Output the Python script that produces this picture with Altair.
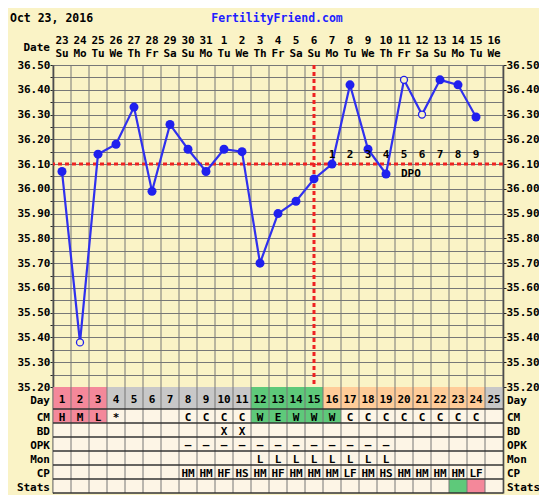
import altair as alt
import pandas as pd

# ---------------- data ----------------
days = list(range(1, 26))
dates = ["23", "24", "25", "26", "27", "28", "29", "30", "31", "1", "2", "3", "4",
         "5", "6", "7", "8", "9", "10", "11", "12", "13", "14", "15", "16"]
weekdays = ["Su", "Mo", "Tu", "We", "Th", "Fr", "Sa", "Su", "Mo", "Tu", "We", "Th", "Fr",
            "Sa", "Su", "Mo", "Tu", "We", "Th", "Fr", "Sa", "Su", "Mo", "Tu", "We"]

temp_days = list(range(1, 25))
temps = [36.07, 35.38, 36.14, 36.18, 36.33, 35.99, 36.26, 36.16, 36.07, 36.16, 36.15, 35.70,
         35.90, 35.95, 36.04, 36.10, 36.42, 36.16, 36.06, 36.44, 36.30, 36.44, 36.42, 36.29]
discarded_days = [2, 20, 21]
coverline = 36.10
ovulation_day = 15
dpo_days = [16, 17, 18, 19, 20, 21, 22, 23, 24]
dpo_labels = ["1", "2", "3", "4", "5", "6", "7", "8", "9"]

day_phase = ["flow", "flow", "flow", "cycle", "cycle", "cycle", "cycle", "cycle", "cycle",
             "cycle", "cycle", "fertile", "fertile", "fertile", "fertile", "luteal", "luteal",
             "luteal", "luteal", "luteal", "luteal", "luteal", "luteal", "luteal", "cycle"]
cm = ["H", "M", "L", "*", "", "", "", "C", "C", "C", "C", "W", "E", "W", "W", "W",
      "C", "C", "C", "C", "C", "C", "C", "C", ""]
cm_phase = ["flow", "flow", "flow", "plain", "plain", "plain", "plain", "plain", "plain",
            "plain", "plain", "fertile", "fertile", "fertile", "fertile", "fertile", "plain",
            "plain", "plain", "plain", "plain", "plain", "plain", "plain", "plain"]
bd = ["", "", "", "", "", "", "", "", "", "X", "X", "", "", "", "", "", "", "", "", "",
      "", "", "", "", ""]
opk = ["", "", "", "", "", "", "", "–", "–", "–", "–", "–", "–", "–", "–", "–", "–", "–",
       "–", "", "", "", "", "", ""]
mon = ["", "", "", "", "", "", "", "", "", "", "", "L", "L", "L", "L", "L", "L", "L", "L",
       "", "", "", "", "", ""]
cp = ["", "", "", "", "", "", "", "HM", "HM", "HF", "HS", "HM", "HF", "HM", "HM", "HM",
      "LF", "HM", "HS", "HM", "HM", "HM", "HM", "LF", ""]
stats_phase = ["plain"] * 22 + ["fertile", "flow", "plain"]

row_names = ["Day", "CM", "BD", "OPK", "Mon", "CP", "Stats"]

# ---------------- layout helpers ----------------
BG = "#FAF3C6"
FONT = "DejaVu Sans Mono"
W = 450
H_TEMP = 322           # pixel height of the temperature grid
ROW_PX = 14.0          # pixel height of one table row
DAY_PX = 22.0          # pixel height of the "Day" row
H = H_TEMP + DAY_PX + 6 * ROW_PX
T_TOP, T_BOT = 36.50, 35.20
PX_PER_DEG = H_TEMP / (T_TOP - T_BOT)
T_MIN = T_BOT - (H - H_TEMP) / PX_PER_DEG
DAY_H = DAY_PX / ROW_PX
R_MIN = -H_TEMP / ROW_PX
R_MAX = (H - H_TEMP) / ROW_PX

row_top = {"Day": 0.0}
row_bot = {"Day": DAY_H}
prev = DAY_H
for r in row_names[1:]:
    row_top[r] = prev
    row_bot[r] = prev + 1
    prev += 1

row_text = {"Day": [str(d) for d in days], "CM": cm, "BD": bd, "OPK": opk, "Mon": mon,
            "CP": cp, "Stats": [""] * 25}
row_fill = {"Day": day_phase, "CM": cm_phase, "BD": ["plain"] * 25, "OPK": ["plain"] * 25,
            "Mon": ["plain"] * 25, "CP": ["plain"] * 25, "Stats": stats_phase}

cells = []
for r in row_names:
    for i, d in enumerate(days):
        cells.append({"day": d, "x0": d - 0.5, "x1": d + 0.5, "y0": row_top[r], "y1": row_bot[r],
                      "yc": (row_top[r] + row_bot[r]) / 2, "txt": row_text[r][i],
                      "fill": row_fill[r][i]})
cells_df = pd.DataFrame(cells)

rows_df = pd.DataFrame({
    "row": row_names,
    "yc": [(row_top[r] + row_bot[r]) / 2 + (1.0 / ROW_PX if r == "Day" else 0.0)
           for r in row_names]})
hlines_df = pd.DataFrame({"y": [row_bot[r] for r in row_names]})
vlines_df = pd.DataFrame({"x": [d - 0.5 for d in days] + [25.5]})
dates_df = pd.DataFrame({"day": days, "date": dates, "wd": weekdays})

temp_df = pd.DataFrame({"day": temp_days, "temp": temps})
temp_df["discarded"] = temp_df["day"].isin(discarded_days)
dpo_df = pd.DataFrame({"day": dpo_days, "lbl": dpo_labels, "temp": [coverline] * len(dpo_days)})

x_scale = alt.Scale(domain=[0.5, 25.5], nice=False, zero=False)
t_scale = alt.Scale(domain=[T_MIN, T_TOP], nice=False, zero=False)
r_scale = alt.Scale(domain=[R_MIN, R_MAX], nice=False, zero=False, reverse=True)

fill_scale = alt.Scale(domain=["flow", "cycle", "fertile", "luteal", "plain"],
                       range=["#F4889A", "#C8C8C8", "#5EC97A", "#FFCC99", "#FDF5E6"])

grid_vals = [round(T_BOT + 0.05 * i, 2) for i in range(27)]
label_vals = [round(T_BOT + 0.10 * i, 2) for i in range(14)]

txt_common = dict(font=FONT, fontWeight="bold", fontSize=11, color="black")

left_axis = alt.Axis(
    orient="left", values=grid_vals,
    labelExpr="round(datum.value * 100) % 10 == 0 ? format(datum.value, '.2f') : ''",
    grid=True, gridColor="#777777", gridWidth=1, gridOpacity=1,
    tickSize=3, tickColor="#222222", domainColor="#222222", domainWidth=1.5,
    labelPadding=0, labelFont=FONT, labelFontWeight="bold", labelFontSize=11,
    labelColor="black", labelOverlap=False, labelFlush=False, title=None)

right_axis = alt.Axis(
    orient="right", values=label_vals, format=".2f", grid=False,
    tickSize=3, tickColor="#222222", domainColor="#222222", domainWidth=1.5,
    labelPadding=0, labelFont=FONT, labelFontWeight="bold", labelFontSize=11,
    labelColor="black", labelOverlap=False, labelFlush=False, title=None)


def X(f):
    return alt.X(f, scale=x_scale, axis=None)


# ---------------- layers ----------------
cells_layer = alt.Chart(cells_df).mark_rect(strokeWidth=0).encode(
    x=X("x0:Q"), x2="x1:Q",
    y=alt.Y("y0:Q", scale=r_scale, axis=None), y2="y1:Q",
    color=alt.Color("fill:N", scale=fill_scale, legend=None))

vgrid = alt.Chart(vlines_df).mark_rule(color="#777777", strokeWidth=1).encode(x=X("x:Q"))

hrules = alt.Chart(hlines_df).mark_rule(color="#333333", strokeWidth=1.5).encode(
    y=alt.Y("y:Q", scale=r_scale, axis=None))

cell_text = alt.Chart(cells_df).mark_text(align="center", baseline="middle", dy=1.5,
                                          **txt_common).encode(
    x=X("day:Q"), y=alt.Y("yc:Q", scale=r_scale, axis=None), text="txt:N")

row_lbl_left = alt.Chart(rows_df).mark_text(align="right", baseline="middle", dy=1.5,
                                            **txt_common).encode(
    x=alt.value(-3), y=alt.Y("yc:Q", scale=r_scale, axis=None), text="row:N")
row_lbl_right = alt.Chart(rows_df).mark_text(align="left", baseline="middle", dy=1.5,
                                             **txt_common).encode(
    x=alt.value(W + 4), y=alt.Y("yc:Q", scale=r_scale, axis=None), text="row:N")

date_nums = alt.Chart(dates_df).mark_text(align="center", baseline="middle", **txt_common).encode(
    x=X("day:Q"), y=alt.value(-24), text="date:N")
date_wds = alt.Chart(dates_df).mark_text(align="center", baseline="middle", **txt_common).encode(
    x=X("day:Q"), y=alt.value(-11), text="wd:N")
date_title = alt.Chart(pd.DataFrame({"t": ["Date"]})).mark_text(
    align="right", baseline="middle", **txt_common).encode(
    x=alt.value(-3), y=alt.value(-17.5), text="t:N")

cover = alt.Chart(pd.DataFrame({"temp": [coverline]})).mark_rule(
    color="#EE2222", strokeWidth=3, strokeDash=[4, 3]).encode(
    y=alt.Y("temp:Q", scale=t_scale, axis=None))

ovu = alt.Chart(pd.DataFrame({"day": [ovulation_day], "t0": [T_TOP], "t1": [T_BOT]})).mark_rule(
    color="#EE2222", strokeWidth=3, strokeDash=[4, 3]).encode(
    x=X("day:Q"), y=alt.Y("t0:Q", scale=t_scale, axis=None), y2="t1:Q")

line = alt.Chart(temp_df).mark_line(color="#3030EE", strokeWidth=2.2).encode(
    x=X("day:Q"), y=alt.Y("temp:Q", scale=t_scale, axis=left_axis))

pts = alt.Chart(temp_df).transform_filter("!datum.discarded").mark_point(
    filled=True, size=81, color="#2020EE", opacity=1, shape="circle").encode(
    x=X("day:Q"), y=alt.Y("temp:Q", scale=t_scale, axis=right_axis))

open_pts = alt.Chart(temp_df).transform_filter("datum.discarded").mark_point(
    filled=False, size=49, stroke="#2020EE", fill=BG, fillOpacity=1, strokeWidth=1.3,
    opacity=1, shape="circle").encode(
    x=X("day:Q"), y=alt.Y("temp:Q", scale=t_scale, axis=None))

dpo_nums = alt.Chart(dpo_df).mark_text(align="center", baseline="middle", dy=-9,
                                       **txt_common).encode(
    x=X("day:Q"), y=alt.Y("temp:Q", scale=t_scale, axis=None), text="lbl:N")

dpo_word = alt.Chart(pd.DataFrame({"day": [20], "temp": [coverline], "lbl": ["DPO"]})).mark_text(
    align="left", baseline="middle", dx=-3, dy=10, **txt_common).encode(
    x=X("day:Q"), y=alt.Y("temp:Q", scale=t_scale, axis=None), text="lbl:N")

head_date = alt.Chart(pd.DataFrame({"t": ["Oct 23, 2016"]})).mark_text(
    align="left", baseline="middle", font=FONT, fontWeight="bold", fontSize=11.5,
    color="black").encode(x=alt.value(-43), y=alt.value(-46), text="t:N")
head_site = alt.Chart(pd.DataFrame({"t": ["FertilityFriend.com"]})).mark_text(
    align="center", baseline="middle", font=FONT, fontWeight="bold", fontSize=11.5,
    color="#1E1EFF").encode(x=alt.value(224), y=alt.value(-46), text="t:N")

chart = alt.layer(
    cells_layer, vgrid, hrules, cell_text, row_lbl_left, row_lbl_right,
    date_nums, date_wds, date_title,
    cover, ovu, line, pts, open_pts, dpo_nums, dpo_word, head_date, head_site
).resolve_scale(y="independent").properties(
    width=W, height=H,
    padding={"left": 45, "top": 57, "right": 36, "bottom": 2},
    autosize=alt.AutoSizeParams(type="none"),
    background=BG,
).configure_view(stroke=None)

chart.save("out.html", embed_options={"renderer": "svg", "actions": False})
